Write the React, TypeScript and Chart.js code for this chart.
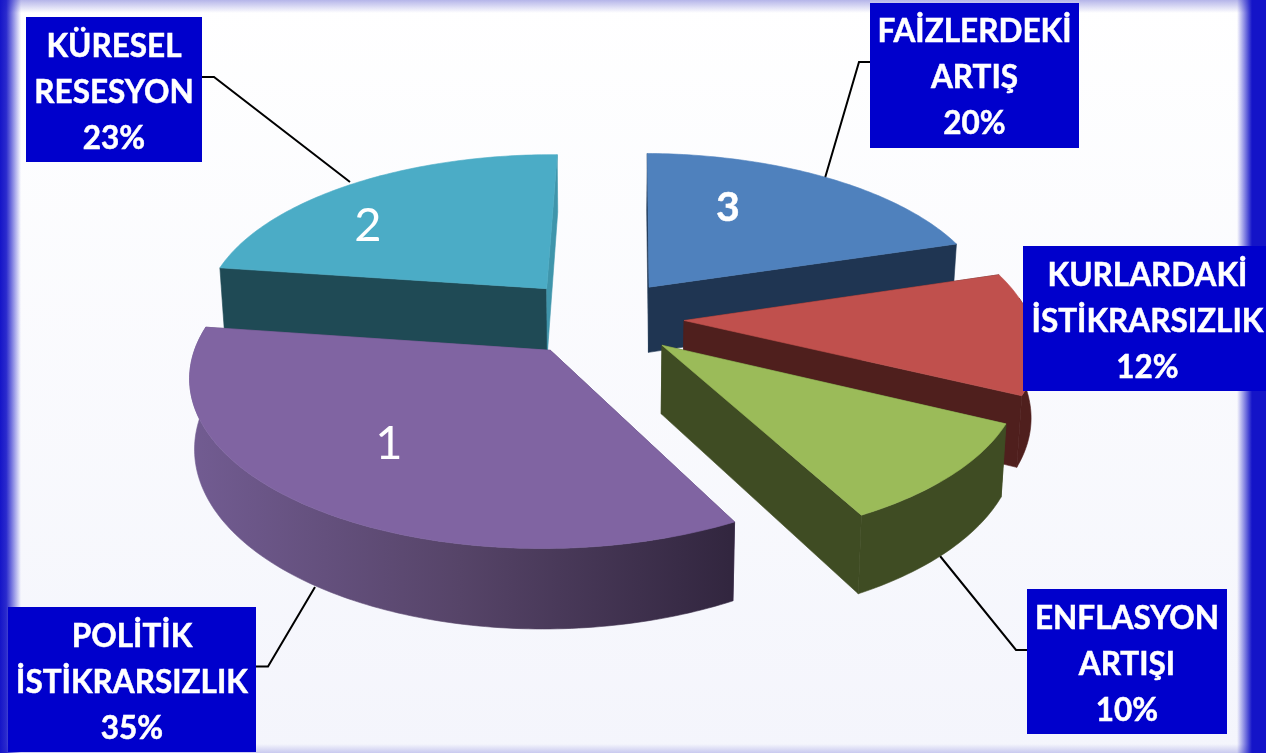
import React, { useEffect, useRef } from "react";
import { Chart, registerables } from "chart.js";

Chart.register(...registerables);

const sliceNumbers = ["1", "2", "3", "4", "5"];
const sliceValues = [35, 23, 20, 12, 10];
const sliceNames = [
  ["POLİTİK", "İSTİKRARSIZLIK", "35%"],
  ["KÜRESEL", "RESESYON", "23%"],
  ["FAİZLERDEKİ", "ARTIŞ", "20%"],
  ["KURLARDAKİ", "İSTİKRARSIZLIK", "12%"],
  ["ENFLASYON", "ARTIŞI", "10%"],
];
const topColors = ["#8064A2", "#4BACC6", "#4F81BD", "#C0504D", "#9BBB59"];
const wallColors = ["#5a4772", "#1F4A55", "#1F3552", "#4F1F1D", "#3F4C23"];
const endFaceColors = ["#5a4772", "#3F95AB", "#1F3552", "#4F1F1D", "#3F4C23"];

const drawOrder = [1, 2, 3, 4, 0];
const FONT = "Lato, Carlito, 'Open Sans', sans-serif";

// view of the tilted pie
const view = { cx: 600, cy: 317.5, r: 346, p: 0.14, A: 160.3, depth: 67, shrink: 0.012, explode: 0.243 };

// callout boxes: [left, top, right, bottom]
const boxes = [
  [8, 607, 256, 752],
  [26, 17, 202, 162],
  [870, 3, 1079, 148],
  [1023, 246, 1266, 391],
  [1027, 589, 1227, 734],
];
const boxTextShift = [
  [0, 3],
  [0, 3],
  [0, 2],
  [3, 3],
  [0, 3],
];
const leaders = [
  [[256, 666.5], [268, 666.5], [315, 587]],
  [[202, 77], [214, 77], [350, 182]],
  [[870, 62], [859, 62], [825, 178]],
  [],
  [[1027, 650], [1016, 650], [940, 556]],
];
const numberMarks = [
  { i: 0, x: 389, y: 444, font: `400 47px ${FONT}`, heavy: false },
  { i: 1, x: 368, y: 226, font: `400 47px ${FONT}`, heavy: false },
  { i: 2, x: 728, y: 208, font: `700 41px ${FONT}`, heavy: true },
];

function project(X: number, Y: number, z: number) {
  const s = 1 / (1 - view.p * Y);
  const k = 1 - view.shrink * z;
  return [view.cx + view.r * X * s * k, view.cy + (view.A * Y + view.depth * z) * s];
}

function poly(ctx: CanvasRenderingContext2D, pts: number[][], fill: string | CanvasGradient) {
  ctx.beginPath();
  pts.forEach((p, i) => (i ? ctx.lineTo(p[0], p[1]) : ctx.moveTo(p[0], p[1])));
  ctx.closePath();
  ctx.fillStyle = fill;
  ctx.strokeStyle = fill;
  ctx.lineWidth = 0.6;
  ctx.fill();
  ctx.stroke();
}

const backdrop = {
  id: "backdrop",
  beforeDraw(chart: any) {
    const { ctx, width: w, height: h } = chart;
    ctx.save();
    let g = ctx.createLinearGradient(0, 0, 0, h);
    g.addColorStop(0, "#ffffff");
    g.addColorStop(1, "#F4F5FC");
    ctx.fillStyle = g;
    ctx.fillRect(0, 0, w, h);
    g = ctx.createLinearGradient(0, 0, 0, 13);
    g.addColorStop(0, "rgba(120,120,215,0.55)");
    g.addColorStop(1, "rgba(120,120,215,0)");
    ctx.fillStyle = g;
    ctx.fillRect(0, 0, w, 13);
    g = ctx.createLinearGradient(0, h - 9, 0, h);
    g.addColorStop(0, "rgba(120,120,215,0)");
    g.addColorStop(1, "rgba(120,120,215,0.35)");
    ctx.fillStyle = g;
    ctx.fillRect(0, h - 9, w, 9);
    g = ctx.createLinearGradient(0, 0, 21, 0);
    g.addColorStop(0, "rgba(20,20,200,1)");
    g.addColorStop(0.3, "rgba(20,20,200,0.9)");
    g.addColorStop(1, "rgba(20,20,200,0)");
    ctx.fillStyle = g;
    ctx.fillRect(0, 0, 21, h);
    g = ctx.createLinearGradient(w - 29, 0, w - 14, 0);
    g.addColorStop(0, "rgba(20,20,200,0)");
    g.addColorStop(1, "rgba(20,20,200,1)");
    ctx.fillStyle = g;
    ctx.fillRect(w - 29, 0, 29, h);
    ctx.restore();
  },
};

const tiltedPie = {
  id: "tiltedPie",
  beforeDatasetDraw(chart: any) {
    const { ctx } = chart;
    const arcs = chart.getDatasetMeta(0).data;
    ctx.save();
    ctx.lineWidth = 2;
    ctx.strokeStyle = "#000";
    leaders.forEach((l) => {
      if (!l.length) return;
      ctx.beginPath();
      l.forEach((p, i) => (i ? ctx.lineTo(p[0], p[1]) : ctx.moveTo(p[0], p[1])));
      ctx.stroke();
    });
    drawOrder.forEach((i) => {
      const a = arcs[i];
      const start = a.startAngle;
      const end = a.endAngle;
      const mid = (start + end) / 2;
      const ox = Math.cos(mid) * view.explode;
      const oy = Math.sin(mid) * view.explode;
      const rim: number[][] = [];
      const front: number[][] = [];
      const n = Math.max(2, Math.round(((end - start) * 180) / Math.PI));
      for (let k = 0; k <= n; k++) {
        const t = start + ((end - start) * k) / n;
        const c = [ox + Math.cos(t), oy + Math.sin(t)];
        rim.push(c);
        if (Math.sin(t) >= -0.15) front.push(c);
      }
      const P = (c: number[], z: number) => project(c[0], c[1], z);
      const apex = [ox, oy];
      // radial faces
      poly(ctx, [P(apex, 0), P(rim[0], 0), P(rim[0], 1), P(apex, 1)], wallColors[i]);
      poly(ctx, [P(apex, 0), P(rim[n], 0), P(rim[n], 1), P(apex, 1)], endFaceColors[i]);
      // outer wall, only the part that faces the viewer
      let wall: string | CanvasGradient = wallColors[i];
      if (i === 0) {
        const g = ctx.createLinearGradient(190, 0, 730, 0);
        g.addColorStop(0, "#725C92");
        g.addColorStop(0.5, "#564468");
        g.addColorStop(1, "#32263F");
        wall = g;
      }
      if (front.length > 1) {
        poly(ctx, [...front.map((c) => P(c, 0)), ...front.slice().reverse().map((c) => P(c, 1))], wall);
      }
      // top face
      poly(ctx, [P(apex, 0), ...rim.map((c) => P(c, 0))], topColors[i]);
    });
    ctx.restore();
    return false;
  },
  afterDatasetsDraw(chart: any) {
    const { ctx } = chart;
    ctx.save();
    ctx.textAlign = "center";
    ctx.textBaseline = "middle";
    ctx.fillStyle = "#ffffff";
    ctx.strokeStyle = "#ffffff";
    ctx.lineWidth = 0.5;
    numberMarks.forEach((m) => {
      ctx.font = m.font;
      ctx.fillText(sliceNumbers[m.i], m.x, m.y);
      if (m.heavy) ctx.strokeText(sliceNumbers[m.i], m.x, m.y);
    });
    ctx.font = `700 31.5px ${FONT}`;
    boxes.forEach((b, i) => {
      ctx.fillStyle = "#0000CC";
      ctx.fillRect(b[0], b[1], b[2] - b[0], b[3] - b[1]);
      ctx.fillStyle = "#ffffff";
      const cx = (b[0] + b[2]) / 2 + boxTextShift[i][0];
      const cy = (b[1] + b[3]) / 2 + boxTextShift[i][1];
      sliceNames[i].forEach((line, j) => {
        ctx.fillText(line, cx, cy + (j - 1) * 46);
        ctx.strokeText(line, cx, cy + (j - 1) * 46);
      });
    });
    ctx.restore();
  },
};

export default function App() {
  const ref = useRef<HTMLCanvasElement>(null);
  useEffect(() => {
    const chart = new Chart(ref.current as HTMLCanvasElement, {
      type: "pie",
      data: {
        labels: sliceNames.map((n) => n.slice(0, -1).join(" ")),
        datasets: [{ data: sliceValues, backgroundColor: topColors, borderWidth: 0 }],
      },
      options: {
        animation: false,
        responsive: false,
        rotation: 152,
        layout: { padding: 0 },
        plugins: { legend: { display: false }, tooltip: { enabled: false }, title: { display: false } },
      },
      plugins: [backdrop, tiltedPie],
    } as any);
    return () => chart.destroy();
  }, []);
  return (
    <div style={{ width: 1266, height: 753 }}>
      <style>{"html,body{margin:0;padding:0;overflow:hidden}"}</style>
      <canvas ref={ref} width={1266} height={753} style={{ display: "block" }} />
    </div>
  );
}
